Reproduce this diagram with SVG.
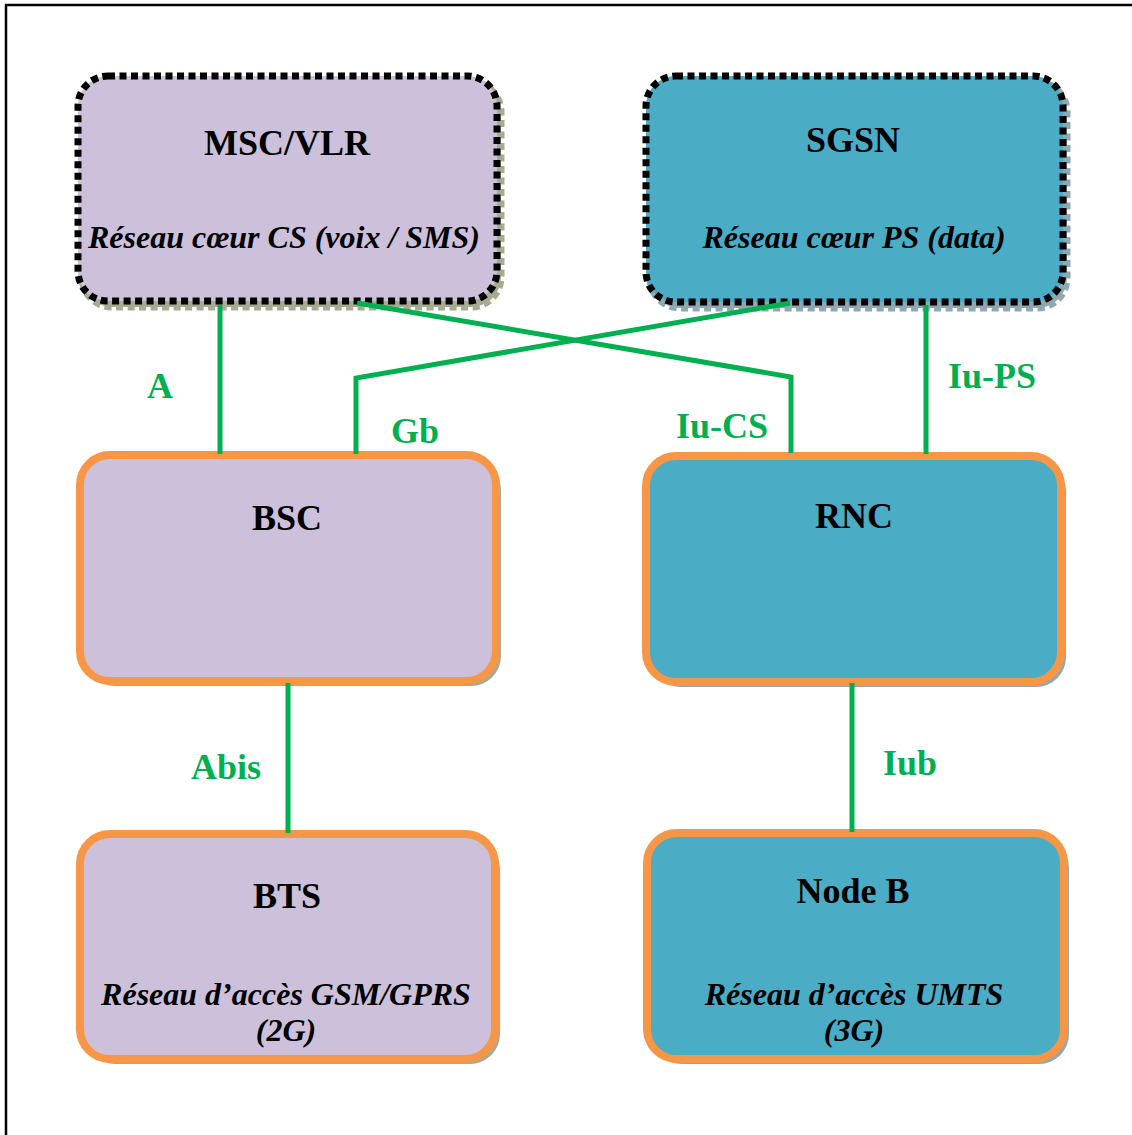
<svg xmlns="http://www.w3.org/2000/svg" width="1132" height="1135" viewBox="0 0 1132 1135">
<style>
.t{font-family:"Liberation Serif","Times New Roman",serif;font-weight:bold;font-size:36px;text-anchor:middle;fill:#000}
.i{font-family:"Liberation Serif","Times New Roman",serif;font-weight:bold;font-style:italic;font-size:32px;text-anchor:middle;fill:#000}
.l{font-family:"Liberation Serif","Times New Roman",serif;font-weight:bold;font-size:36px;text-anchor:middle;fill:#00b050}
.core{stroke:#000;stroke-width:7;stroke-dasharray:7 4.5}
.acc{stroke:#f79646;stroke-width:8}
.pu{fill:#ccc0da}
.bl{fill:#4bacc6}
.spu{fill:#a6ab91}
.sbl{fill:#8ea9b2}
.cs{stroke:#a6ab91;stroke-width:7;stroke-dasharray:7 4.5}
.cb{stroke:#8ea9b2;stroke-width:7;stroke-dasharray:7 4.5}
.c{fill:none;stroke:#00b050;stroke-width:5}
</style>
<rect x="0" y="0" width="1132" height="1135" fill="#fff"/>
<rect x="6" y="5" width="1150" height="1160" fill="none" stroke="#000" stroke-width="2.5"/>

<g id="msc">
<rect x="82" y="82" width="419" height="225" rx="30" class="spu cs"/>
<rect x="78" y="76" width="419" height="225" rx="30" class="pu core"/>
<text x="287" y="155" class="t">MSC/VLR</text>
<text x="284" y="248" class="i">Réseau cœur CS (voix / SMS)</text>
</g>

<g id="sgsn">
<rect x="650" y="82" width="417" height="226" rx="30" class="sbl cb"/>
<rect x="646" y="76" width="417" height="226" rx="30" class="bl core"/>
<text x="853" y="152" class="t">SGSN</text>
<text x="854" y="248" class="i">Réseau cœur PS (data)</text>
</g>

<g id="bsc">
<rect x="85" y="460" width="416" height="226" rx="30" class="spu"/>
<rect x="80" y="455" width="416" height="226" rx="30" class="pu acc"/>
<text x="287" y="530" class="t">BSC</text>
</g>

<g id="rnc">
<rect x="651" y="461" width="415" height="226" rx="30" class="sbl"/>
<rect x="646" y="456" width="415" height="226" rx="30" class="bl acc"/>
<text x="854" y="528" class="t">RNC</text>
</g>

<g id="bts">
<rect x="85" y="839" width="415" height="225" rx="30" class="spu"/>
<rect x="80" y="834" width="415" height="225" rx="30" class="pu acc"/>
<text x="287" y="908" class="t">BTS</text>
<text x="286" y="1005" class="i">Réseau d’accès GSM/GPRS</text>
<text x="286" y="1041" class="i">(2G)</text>
</g>

<g id="nodeb">
<rect x="652" y="838" width="417" height="226" rx="30" class="sbl"/>
<rect x="647" y="833" width="417" height="226" rx="30" class="bl acc"/>
<text x="853" y="903" class="t">Node B</text>
<text x="854" y="1005" class="i">Réseau d’accès UMTS</text>
<text x="854" y="1041" class="i">(3G)</text>
</g>

<g id="connectors">
<path class="c" d="M220 305 V454"/>
<path class="c" d="M356 454 V378 L790 303"/>
<path class="c" d="M357 303 L791 377 V453"/>
<path class="c" d="M926 305 V454"/>
<path class="c" d="M288 683 V833"/>
<path class="c" d="M852 683 V832"/>
<text x="160" y="398" class="l">A</text>
<text x="415" y="443" class="l">Gb</text>
<text x="722" y="438" class="l">Iu-CS</text>
<text x="992" y="388" class="l">Iu-PS</text>
<text x="226" y="779" class="l">Abis</text>
<text x="910" y="775" class="l">Iub</text>
</g>
</svg>
